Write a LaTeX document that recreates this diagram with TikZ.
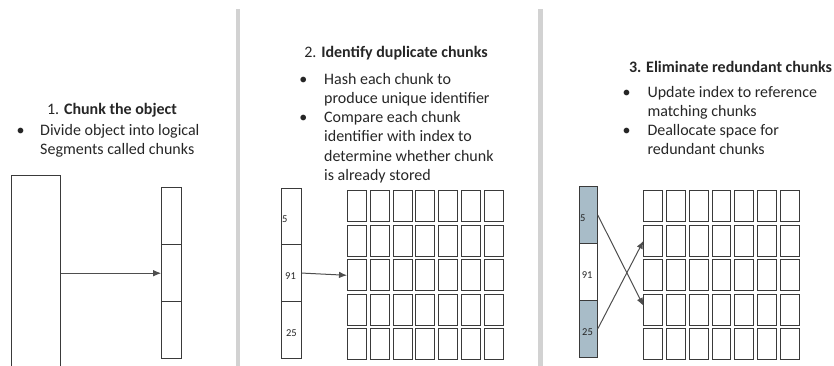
\documentclass[tikz,border=0pt]{standalone}
\usepackage{fontspec}
\setmainfont{Carlito}
\usetikzlibrary{arrows.meta}
\definecolor{sepc}{HTML}{D2D2D2}
\definecolor{idx}{HTML}{A8BCC8}
\definecolor{lnc}{HTML}{3A3A3A}
\definecolor{txt}{HTML}{262626}
\begin{document}
\begin{tikzpicture}[x=1pt,y=-1pt,
  box/.style={draw=lnc,line width=1pt,inner sep=0pt},
  cell/.style={draw=lnc,line width=0.95pt,inner sep=0pt,minimum width=19pt,minimum height=31pt},
  conn/.style={draw=lnc!90,line width=1pt,-{Latex[length=8pt,width=6.5pt]}},
  body/.style={font=\fontsize{16}{19.4}\selectfont,text=txt,inner sep=0pt,anchor=base west},
  bul/.style={font=\fontsize{16}{19.4}\selectfont,text=txt,inner sep=0pt,anchor=base},
  ttl/.style={font=\fontsize{16}{19.4}\selectfont,text=txt,inner sep=0pt,anchor=base},
  num/.style={font=\fontsize{10.5}{12}\selectfont,text=txt,inner sep=0pt,anchor=base west},
  sepline/.style={draw=sepc,line width=4.5pt}]
\useasboundingbox (0,0) rectangle (834,365);
% separators
\draw[sepline] (238.2,9) -- (238.2,366);
\draw[sepline] (540.7,9) -- (540.7,366);

% ---------- panel 1 ----------
\node[ttl] (t1) at (112,114.5) {1. \textbf{Chunk the object}};
\node[bul] (b1) at (20.7,135.3) {•};
\node[body] (l1a) at (40,135.3) {Divide object into logical};
\node[body] (l1b) at (40,154.6) {Segments called chunks};
\node[box,minimum width=49.7pt,minimum height=192pt] (obj) at (35.85,271.3) {};
\node[box,minimum width=19.3pt,minimum height=57pt] (c1) at (171.35,216.2) {};
\node[box,minimum width=19.3pt,minimum height=57pt] (c2) at (171.35,273.2) {};
\node[box,minimum width=19.3pt,minimum height=57pt] (c3) at (171.35,330.2) {};
\draw[conn] (obj.east |- c2.west) -- (c2.west);

% ---------- panel 2 ----------
\node[ttl] (t2) at (396,57.6) {2. \textbf{Identify duplicate chunks}};
\node[bul] (b2a) at (303.3,84.3) {•};
\node[body] (l2a) at (324,84.3) {Hash each chunk to};
\node[body] (l2b) at (324,103.5) {produce unique identifier};
\node[bul] (b2b) at (303.3,122.7) {•};
\node[body] (l2c) at (324,122.7) {Compare each chunk};
\node[body] (l2d) at (324,141.9) {identifier with index to};
\node[body] (l2e) at (324,161.1) {determine whether chunk};
\node[body] (l2f) at (324,180.3) {is already stored};
\node[box,minimum width=19.6pt,minimum height=56.7pt] (i1) at (291.5,216.35) {};
\node[box,minimum width=19.6pt,minimum height=56.7pt] (i2) at (291.5,273.05) {};
\node[box,minimum width=19.6pt,minimum height=56.7pt] (i3) at (291.5,329.75) {};
\node[num] (n21) at (282,222.5) {5};
\node[num] (n22) at (285,279.5) {91};
\node[num] (n23) at (285.8,336.2) {25};

% ---------- panel 3 ----------
\node[ttl] (t3) at (730.5,72) {\textbf{3. Eliminate redundant chunks}};
\node[bul] (b3a) at (626.7,97.6) {•};
\node[body] (l3a) at (647.3,97.6) {Update index to reference};
\node[body] (l3b) at (647.3,116.7) {matching chunks};
\node[bul] (b3b) at (626.7,135.8) {•};
\node[body] (l3c) at (647.3,135.8) {Deallocate space for};
\node[body] (l3d) at (647.3,154.9) {redundant chunks};
\node[box,fill=idx,minimum width=18pt,minimum height=56.8pt] (j1) at (588.3,215.1) {};
\node[box,minimum width=18pt,minimum height=56.8pt] (j2) at (588.3,271.9) {};
\node[box,fill=idx,minimum width=18pt,minimum height=56.8pt] (j3) at (588.3,328.7) {};
\node[num] (n31) at (580,221.3) {5};
\node[num] (n32) at (581.7,278.5) {91};
\node[num] (n33) at (582,335.5) {25};

% grids
\foreach \r in {0,...,4}{
  \foreach \c in {0,...,6}{
    \node[cell] (g\r\c) at ({357+22.75*\c},{206.2+34.55*\r}) {};
    \node[cell,minimum width=18.7pt] (h\r\c) at ({653.3+22.75*\c},{206.2+34.55*\r}) {};
  }
}
\draw[conn] (i2.east) -- (g20.west);
\draw[conn] (j1.east) -- ([yshift=4pt]h30.west);
\draw[conn] (j3.east) -- (h10.west);
\end{tikzpicture}
\end{document}
